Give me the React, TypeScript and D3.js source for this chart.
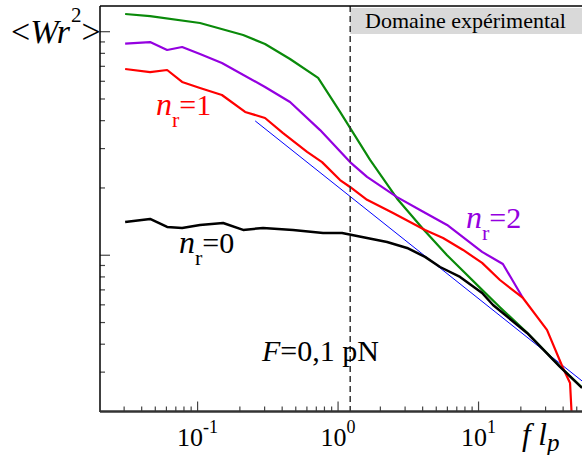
import React from 'react';
import * as d3 from 'd3';

const W = 582;
const H = 455;

// f l_p values (x) and <Wr^2> values (y)
const greenX = [0.0305, 0.0459, 0.104, 0.211, 0.302, 0.455, 0.721, 1.033, 1.69, 2.67, 4.03, 5.97, 7.38, 10.6, 14.2, 22.1, 38.0, 54.5];
const greenY = [12.0, 11.75, 10.94, 9.66, 8.81, 7.55, 6.21, 4.38, 2.67, 1.77, 1.311, 1.0, 0.877, 0.70, 0.585, 0.451, 0.318, 0.256];

const purpleX = [0.0305, 0.0459, 0.0607, 0.0776, 0.104, 0.149, 0.302, 0.455, 0.745, 1.217, 1.608, 2.63, 3.83, 5.97, 10.6, 14.9, 20.7];
const purpleY = [8.84, 8.99, 8.28, 8.54, 7.95, 7.24, 5.66, 4.85, 3.63, 2.61, 2.24, 1.82, 1.595, 1.366, 1.035, 0.914, 0.644];

const redX = [0.0305, 0.0459, 0.0607, 0.0776, 0.104, 0.149, 0.218, 0.302, 0.406, 0.602, 0.769, 1.033, 1.217, 1.608, 2.463, 4.161, 5.589, 7.757, 10.6, 14.2, 20.7, 30.7, 39.9, 44.8, 46.3];
const redY = [6.81, 6.60, 6.74, 5.96, 5.60, 5.21, 4.375, 4.11, 3.52, 2.90, 2.61, 2.17, 2.02, 1.77, 1.546, 1.298, 1.195, 1.056, 0.924, 0.775, 0.644, 0.4634, 0.313, 0.2685, 0.18];

const blackX = [0.0305, 0.0459, 0.0607, 0.0776, 0.104, 0.152, 0.211, 0.2925, 0.478, 0.782, 1.068, 1.608, 2.233, 3.098, 4.161, 5.321, 7.384, 10.6, 12.68, 22.14, 38.03, 54.5];
const blackY = [1.409, 1.453, 1.338, 1.325, 1.366, 1.394, 1.298, 1.325, 1.298, 1.258, 1.258, 1.195, 1.147, 1.078, 0.983, 0.886, 0.80, 0.678, 0.599, 0.449, 0.3165, 0.255];

const blueX = [0.257, 54.5];
const blueY = [3.99, 0.274];

const dashedX = 1.22;

const xMajor = [0.1, 1, 10];
const xMajorExp = ['-1', '0', '1'];

const FONT = "'Liberation Serif', 'Times New Roman', serif";

export default function App() {
  const x = d3.scaleLog().domain([0.0202, 54.5]).range([100, 582]);
  const y = d3.scaleLog().domain([0.2, 13.03]).range([411.5, 6]);
  const line = d3.line<[number, number]>().x(d => x(d[0])).y(d => y(d[1]));

  const series = [
    { xs: blueX, ys: blueY, color: '#0000ff', w: 1 },
    { xs: greenX, ys: greenY, color: '#0a8a0a', w: 2.2 },
    { xs: purpleX, ys: purpleY, color: '#9400e0', w: 2.2 },
    { xs: redX, ys: redY, color: '#ff0000', w: 2.2 },
    { xs: blackX, ys: blackY, color: '#000000', w: 2.5 },
  ];

  const isMajor = (v: number) => Math.abs(Math.log10(v) - Math.round(Math.log10(v))) < 1e-6;
  const xt = x.ticks().filter(v => v > 0.021 && v < 54);
  const yt = y.ticks().filter(v => v > 0.21 && v < 13);

  const nLabel = (px: number, py: number, color: string, val: string) => (
    <text x={px} y={py} fill={color} fontSize={30}>
      <tspan fontStyle="italic" fontSize={32}>n</tspan>
      <tspan fontSize={22} dy={12}>r</tspan>
      <tspan dy={-12}>={val}</tspan>
    </text>
  );

  return (
    <svg width={W} height={H} style={{ position: 'absolute', left: 0, top: 0, background: '#fff' }} fontFamily={FONT}>
      <defs>
        <clipPath id="plot">
          <rect x={100} y={6} width={482} height={405.5} />
        </clipPath>
      </defs>
      {/* experimental domain box */}
      <rect x={x(dashedX)} y={8} width={W - x(dashedX)} height={26} fill="#d9d9d9" />
      <text x={365} y={28} fontSize={22} fill="#000">Domaine expérimental</text>

      {/* ticks */}
      {xt.map((v, i) => (
        <line key={'xt' + i} x1={x(v)} x2={x(v)} y1={411.5} y2={411.5 - (isMajor(v) ? 10 : 5)} stroke="#444" strokeWidth={1.2} />
      ))}
      {yt.map((v, i) => (
        <line key={'yt' + i} x1={100} x2={100 + (isMajor(v) ? 10 : 5)} y1={y(v)} y2={y(v)} stroke="#444" strokeWidth={1.2} />
      ))}

      {/* curves */}
      <g clipPath="url(#plot)">
        {series.map((s, i) => (
          <path key={i} d={line(s.xs.map((v, j) => [v, s.ys[j]] as [number, number])) || ''} fill="none" stroke={s.color} strokeWidth={s.w} strokeLinejoin="round" />
        ))}
      </g>

      {/* dashed line */}
      <line x1={x(dashedX)} x2={x(dashedX)} y1={6} y2={411.5} stroke="#333" strokeWidth={1.5} strokeDasharray="6,4" />

      {/* frame */}
      <line x1={100} x2={582} y1={6} y2={6} stroke="#000" strokeWidth={1.5} />
      <line x1={100} x2={100} y1={6} y2={412} stroke="#000" strokeWidth={1.5} />
      <line x1={100} x2={582} y1={411.5} y2={411.5} stroke="#333" strokeWidth={2.5} />

      {/* x tick labels */}
      {xMajor.map((v, i) => (
        <text key={'xl' + i} x={x(v)} y={446} fontSize={26} textAnchor="middle">
          10<tspan fontSize={18} dy={-13}>{xMajorExp[i]}</tspan>
        </text>
      ))}

      {/* axis titles */}
      <text x={522} y={445} fontSize={31} fontStyle="italic">
        f l<tspan fontSize={25} dy={6}>p</tspan>
      </text>
      <text x={11} y={43} fontSize={34}>
        &lt;<tspan fontStyle="italic">Wr</tspan><tspan fontSize={21} dy={-21} dx={1}>2</tspan><tspan dy={21}>&gt;</tspan>
      </text>

      {/* annotations */}
      {nLabel(156, 115, '#ff0000', '1')}
      {nLabel(179, 253, '#000000', '0')}
      {nLabel(466, 228, '#9400e0', '2')}
      <text x={262} y={361} fill="#000" fontSize={30}>
        <tspan fontStyle="italic">F</tspan>=0,1 pN
      </text>
    </svg>
  );
}
